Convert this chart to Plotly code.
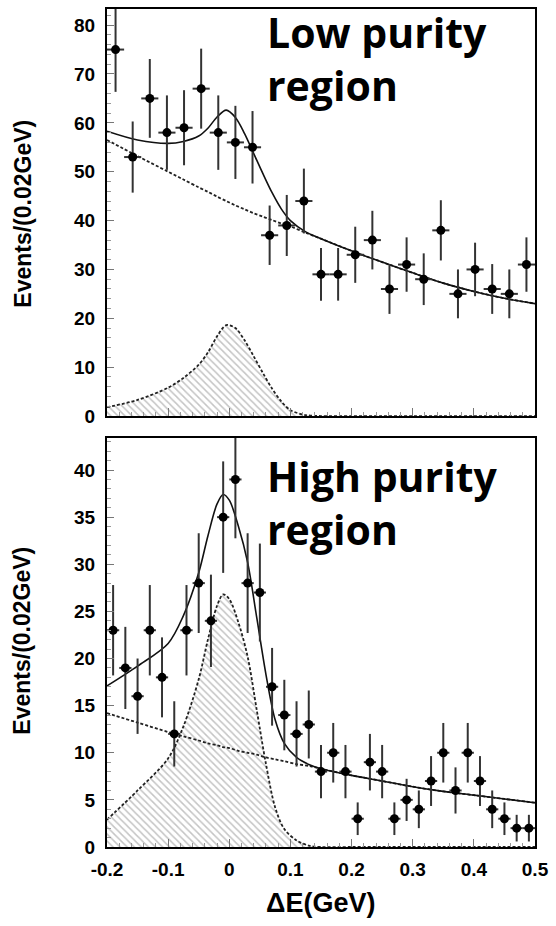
import numpy as np
import plotly.graph_objects as go

# ---------------- data ----------------
x_tick_vals = [-0.2, -0.1, 0.0, 0.1, 0.2, 0.3, 0.4, 0.5]
x_tick_text = ["-0.2", "-0.1", "0", "0.1", "0.2", "0.3", "0.4", "0.5"]

# Low purity region (25 bins)
low_bin_centers = [-0.186, -0.158, -0.130, -0.102, -0.074, -0.046, -0.018, 0.010,
                   0.038, 0.066, 0.094, 0.122, 0.150, 0.178, 0.206, 0.234, 0.262,
                   0.290, 0.318, 0.346, 0.374, 0.402, 0.430, 0.458, 0.486]
low_counts = [75, 53, 65, 58, 59, 67, 58, 56, 55, 37, 39, 44, 29, 29, 33, 36, 26,
              31, 28, 38, 25, 30, 26, 25, 31]
low_half_width = 0.014

low_curve_x = [-0.2, -0.15, -0.1, -0.075, -0.05, -0.035, -0.02, -0.005, 0.01, 0.025,
               0.04, 0.055, 0.07, 0.085, 0.1, 0.125, 0.15, 0.2, 0.25, 0.3, 0.35,
               0.4, 0.45, 0.5]
low_bkg = [56.5, 53.2, 50.0, 48.4, 46.8, 45.9, 44.9, 44.0, 43.1, 42.3, 41.5, 40.8,
           40.1, 39.4, 38.8, 37.5, 36.3, 33.8, 31.5, 29.3, 27.2, 25.5, 24.1, 23.0]
low_sig = [1.8, 3.3, 5.8, 7.8, 10.5, 13.0, 16.3, 18.6, 18.0, 15.5, 12.2, 8.8, 5.6,
           3.0, 1.2, 0.2, 0.0, 0.0, 0.0, 0.0, 0.0, 0.0, 0.0, 0.0]

# High purity region (35 bins)
high_bin_centers = [-0.19, -0.17, -0.15, -0.13, -0.11, -0.09, -0.07, -0.05, -0.03,
                    -0.01, 0.01, 0.03, 0.05, 0.07, 0.09, 0.11, 0.13, 0.15, 0.17,
                    0.19, 0.21, 0.23, 0.25, 0.27, 0.29, 0.31, 0.33, 0.35, 0.37,
                    0.39, 0.41, 0.43, 0.45, 0.47, 0.49]
high_counts = [23, 19, 16, 23, 18, 12, 23, 28, 24, 35, 39, 28, 27, 17, 14, 12, 13, 8,
               10, 8, 3, 9, 8, 3, 5, 4, 7, 10, 6, 10, 7, 4, 3, 2, 2]
high_half_width = 0.01

high_curve_x = [-0.2, -0.15, -0.1, -0.075, -0.05, -0.035, -0.02, -0.01, 0.0, 0.015,
                0.03, 0.045, 0.06, 0.075, 0.09, 0.11, 0.13, 0.15, 0.2, 0.25, 0.3,
                0.35, 0.4, 0.45, 0.5]
high_bkg = [14.2, 13.2, 12.2, 11.75, 11.3, 11.0, 10.8, 10.6, 10.5, 10.2, 10.0, 9.8,
            9.5, 9.3, 9.1, 8.8, 8.6, 8.3, 7.6, 7.0, 6.4, 5.9, 5.5, 5.1, 4.7]
high_sig = [2.9, 6.0, 9.4, 12.8, 17.8, 22.0, 25.6, 26.8, 26.3, 23.8, 20.2, 14.5, 8.8,
            4.2, 1.9, 0.7, 0.15, 0.0, 0.0, 0.0, 0.0, 0.0, 0.0, 0.0, 0.0]

# ---------------- figure ----------------
fig = go.Figure()


def add_panel(xa, ya, cx, bkg, sig, px, cnt, halfw):
    tot = [b + s for b, s in zip(bkg, sig)]
    fig.add_trace(go.Scatter(
        x=cx, y=sig, mode="lines", xaxis=xa, yaxis=ya,
        line=dict(color="#222", width=1.8, dash="3px,2px", shape="spline", smoothing=0.9),
        fill="tozeroy", fillcolor="white",
        fillpattern=dict(shape="\\", fgcolor="#8a8a8a", bgcolor="white", size=5, solidity=0.3),
        showlegend=False, hoverinfo="skip"))
    fig.add_trace(go.Scatter(
        x=cx, y=bkg, mode="lines", xaxis=xa, yaxis=ya,
        line=dict(color="#222", width=1.8, dash="3px,2px", shape="spline", smoothing=0.9),
        showlegend=False, hoverinfo="skip"))
    fig.add_trace(go.Scatter(
        x=cx, y=tot, mode="lines", xaxis=xa, yaxis=ya,
        line=dict(color="#111", width=1.6, shape="spline", smoothing=0.9),
        showlegend=False, hoverinfo="skip"))
    fig.add_trace(go.Scatter(
        x=px, y=cnt, mode="markers", xaxis=xa, yaxis=ya,
        marker=dict(color="black", size=9, symbol="circle"),
        error_y=dict(type="data", array=list(np.sqrt(cnt)), color="#333", thickness=2, width=0),
        error_x=dict(type="constant", value=halfw, color="#333", thickness=2, width=0),
        showlegend=False))


add_panel("x2", "y2", low_curve_x, low_bkg, low_sig, low_bin_centers, low_counts, low_half_width)
add_panel("x", "y", high_curve_x, high_bkg, high_sig, high_bin_centers, high_counts, high_half_width)

W, H = 556, 926
ml, mr, mt, mb = 107, 15, 7, 79
ph = H - mt - mb  # 840


def py(p):
    return (H - mb - p) / ph


def pxp(p):
    return (p - ml) / (W - ml - mr)


tickfont = dict(family="Liberation Sans, Arial, sans-serif", size=19, color="black", weight="bold")
xcommon = dict(range=[-0.2, 0.5], tickvals=x_tick_vals, ticktext=x_tick_text,
               ticks="inside", ticklen=8, tickwidth=1, tickcolor="#777",
               minor=dict(dtick=0.02, tick0=-0.2, ticks="inside", ticklen=4, tickcolor="#999"),
               showline=True, linewidth=2, linecolor="black", mirror=True,
               showgrid=False, zeroline=False)

yticks = dict(ticks="inside", ticklen=7, tickwidth=1, tickcolor="#777",
              showline=True, linewidth=2, linecolor="black", mirror=True,
              showgrid=False, zeroline=False, tickfont=tickfont, ticklabelstandoff=6)

fig.update_layout(
    width=W, height=H, margin=dict(l=ml, r=mr, t=mt, b=mb),
    plot_bgcolor="white", paper_bgcolor="white",
    xaxis=dict(anchor="y", tickfont=tickfont, ticklabeloverflow="allow", ticklabelstandoff=4,
               **xcommon),
    xaxis2=dict(anchor="y2", matches="x", showticklabels=False, **xcommon),
    yaxis=dict(domain=[0, py(437)], range=[0, 43.4], tickvals=[0, 5, 10, 15, 20, 25, 30, 35, 40],
               minor=dict(dtick=1, ticks="inside", ticklen=4, tickcolor="#999"), **yticks),
    yaxis2=dict(domain=[py(415), 1], range=[0, 83.3], tickvals=[0, 10, 20, 30, 40, 50, 60, 70, 80],
                minor=dict(dtick=2, ticks="inside", ticklen=4, tickcolor="#999"), **yticks),
)

title_font = dict(family="Liberation Sans Narrow, Arial Narrow, Liberation Sans, sans-serif",
                  size=23, color="black", weight="bold")
comic = dict(family="Comic Sans MS, Open Sans, sans-serif", size=41, color="black", weight="bold")


def label(text, xpix, ytop):
    return dict(x=pxp(xpix), y=py(ytop), xref="paper", yref="paper", text=text,
                showarrow=False, font=comic, xanchor="left", yanchor="top", align="left")


annotations = [
    dict(x=pxp(21), y=py(212), xref="paper", yref="paper", text="Events/(0.02GeV)",
         textangle=-90, showarrow=False, font=title_font, xanchor="center", yanchor="middle"),
    dict(x=pxp(21), y=py(640), xref="paper", yref="paper", text="Events/(0.02GeV)",
         textangle=-90, showarrow=False, font=title_font, xanchor="center", yanchor="middle"),
    dict(x=pxp(323), y=py(903), xref="paper", yref="paper", text="ΔE(GeV)",
         showarrow=False, font=dict(title_font, size=27), xanchor="center", yanchor="middle"),
    label("Low purity<br>region", 267, 0),
    label("High purity<br>region", 267, 445),
]
fig.update_layout(annotations=annotations)

fig.write_html("out.html", config={"displayModeBar": False},
               post_script="document.body.style.margin='0';document.body.style.padding='0';")
